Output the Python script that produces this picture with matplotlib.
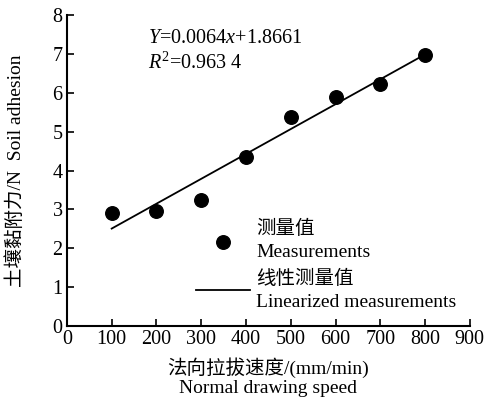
import matplotlib
matplotlib.use("Agg")
import matplotlib.pyplot as plt
import numpy as np

# Data
speed = [100, 200, 300, 400, 500, 600, 700, 800]
adhesion = [2.90, 2.95, 3.23, 4.35, 5.37, 5.90, 6.23, 6.97]
slope, intercept = 0.0064, 1.8661
fit_x = [100, 800]
xticks = [0, 100, 200, 300, 400, 500, 600, 700, 800, 900]
yticks = [0, 1, 2, 3, 4, 5, 6, 7, 8]

plt.rcParams['font.family'] = ['Liberation Serif', 'Noto Sans CJK SC']
plt.rcParams['mathtext.fontset'] = 'custom'
plt.rcParams['mathtext.rm'] = 'Liberation Serif'
plt.rcParams['mathtext.it'] = 'Liberation Serif:italic'

fig = plt.figure(figsize=(4.92, 4.0), dpi=100)
ax = fig.add_axes([0.136, 0.185, 0.819, 0.7775])

ax.scatter(speed, adhesion, s=95, color='black', zorder=3, label='测量值\nMeasurements')
fy = [slope * x + intercept for x in fit_x]
ax.plot(fit_x, fy, color='black', lw=1.3, label='线性测量值\nLinearized measurements')

ax.set_xlim(0, 900)
ax.set_ylim(0, 8)
ax.set_xticks(xticks)
ax.set_yticks(yticks)
for s in ['top', 'right']:
    ax.spines[s].set_visible(False)
for s in ['left', 'bottom']:
    ax.spines[s].set_linewidth(1.5)
ax.tick_params(direction='in', length=5, width=1.2, labelsize=14.5, pad=3)

ax.set_xlabel('法向拉拔速度/(mm/min)\nNormal drawing speed', fontsize=14, linespacing=1.15)
ax.xaxis.set_label_coords(0.5, -0.10)
ax.set_ylabel('土壤黏附力/N  Soil adhesion', fontsize=14)
ax.yaxis.set_label_coords(-0.105, 0.5)

ax.text(0.20, 0.925, r'$Y$=0.0064$x$+1.8661', transform=ax.transAxes, fontsize=14.5, va='center')
ax.text(0.20, 0.845, r'$R^2$=0.963 4', transform=ax.transAxes, fontsize=14.5, va='center')

leg = ax.legend(loc='upper left', bbox_to_anchor=(0.32, 0.34), frameon=False, fontsize=14,
                handlelength=2.8, handletextpad=0.3, labelspacing=0.45, borderpad=0,
                borderaxespad=0, scatterpoints=1)
for t in leg.get_texts():
    t.set_linespacing(1.45)

fig.savefig('out.png', dpi=100)
